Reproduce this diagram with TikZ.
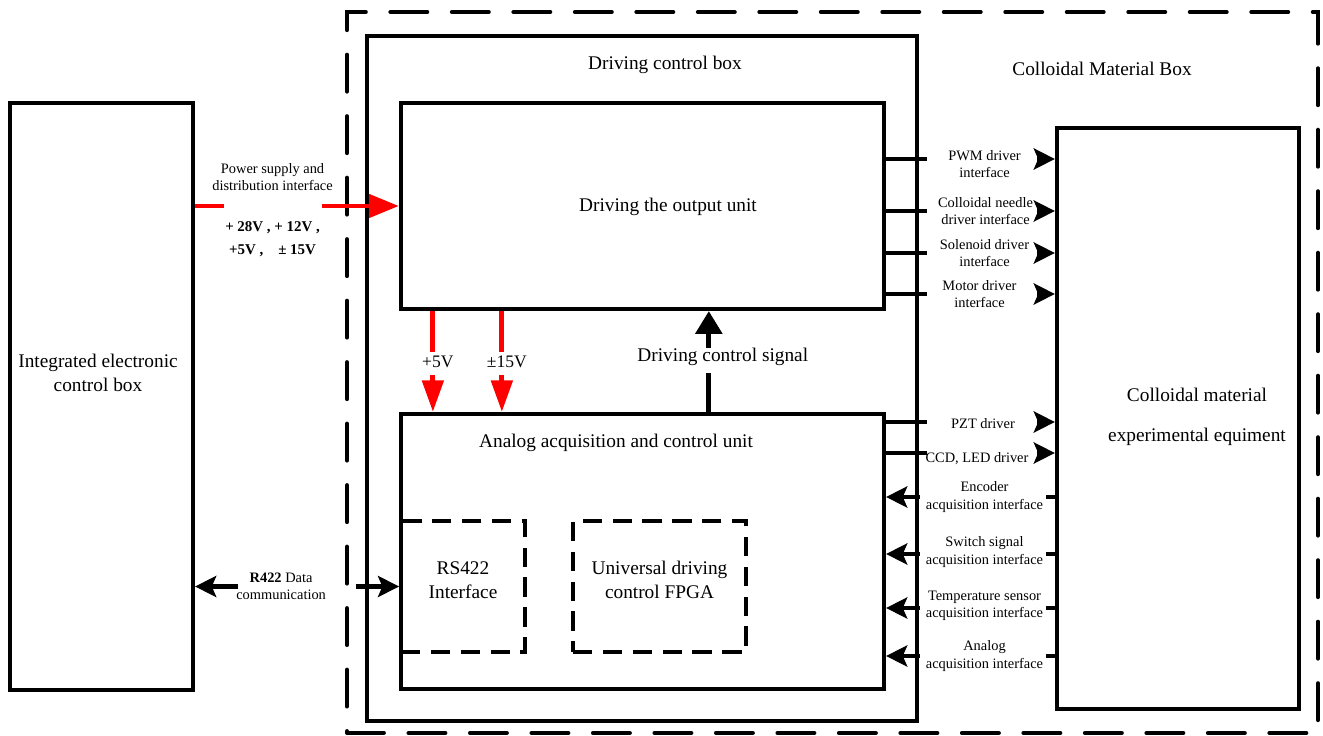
\documentclass[tikz,border=0pt]{standalone}
\usepackage{fontspec}
\setmainfont{Liberation Serif}
\usetikzlibrary{arrows.meta,fit}

\tikzset{
  blk/.style={draw, line width=2.4pt, inner sep=0pt},
  dblk/.style={draw, line width=2.2pt, dash pattern=on 11pt off 6pt, inner sep=0pt,
    align=center, font=\fontsize{11}{13.5}\selectfont},
  outerblk/.style={draw, line width=2.3pt, line cap=round, dash pattern=on 21pt off 14pt, inner sep=0pt},
  tlbl/.style={font=\fontsize{11}{13.5}\selectfont, align=center, inner sep=0pt},
  ilbl/.style={text=black, font=\fontsize{8.2}{9.8}\selectfont, align=center, inner sep=0pt},
  vlbl/.style={text=black, font=\fontsize{8.5}{13}\selectfont\bfseries, align=center, inner sep=0pt},
  plbl/.style={text=black, font=\fontsize{10}{12}\selectfont, inner sep=0pt},
  pwr/.style={red, line width=2.8pt, -{Triangle[length=17pt,width=13pt]}},
  vpwr/.style={red, line width=2.8pt, -{Triangle[length=18pt,width=12pt]}},
  dsig/.style={line width=2.8pt, -{Triangle[length=13pt,width=15pt]}},
  sig/.style={line width=2.3pt, -{Stealth[length=12pt,width=12pt,inset=2.5pt]}},
  sigo/.style={sig, dash pattern=on 0.82cm off 2.2cm on 2cm},
  sigi/.style={sig, dash pattern=on 0.18cm off 2.52cm on 2cm},
}

\begin{document}
\begin{tikzpicture}[x=0.02cm, y=-0.02cm]
    \useasboundingbox (0,0) rectangle (1323,736);

    % boxes
    \node[blk, fit={(10,103) (193,690)}] (ieb) {};
    \node[outerblk, fit={(347,12) (1318,733)}] (cmb) {};
    \node[blk, fit={(367,36) (917,721)}] (dcb) {};
    \node[blk, fit={(401,103) (884,309)}] (dou) {};
    \node[blk, fit={(401,414) (884,689)}] (aau) {};
    \node[dblk, fit={(401,521) (525,652)}] (rsi) {RS422\\Interface};
    \node[dblk, fit={(573,521) (746,652)}] (fpga) {Universal driving\\control FPGA};
    \node[blk, fit={(1057,128) (1299,709)}] (cme) {};

    % box titles
    \node[tlbl] (iebt) at (98,373) {Integrated electronic\\control box};
    \node[tlbl] (dcbt) at (665,65) {Driving control box};
    \node[tlbl] (cmbt) at (1102,69) {Colloidal Material Box};
    \node[tlbl] (dout) at (668,207) {Driving the output unit};
    \node[tlbl] (aaut) at (616,443) {Analog acquisition and control unit};
    \node[tlbl] (cmet) at (1197,417) {Colloidal material\\[9pt]experimental equiment};

    % power supply
    \draw[pwr, dash pattern=on 0.58cm off 1.96cm on 5cm] (ieb.east |- dou.west) -- (dou.west)
        node[pos=0.38, above=0.26cm, ilbl] (psl) {Power supply and\\distribution interface}
        node[pos=0.38, below=0.26cm, vlbl] (psv) {+ 28V , + 12V ,\\+5V ,\quad ± 15V};

    % R422 data
    \draw[sig, {Stealth[length=12pt,width=12pt,inset=2.5pt]}-{Stealth[length=12pt,width=12pt,inset=2.5pt]},
        dash pattern=on 0.55cm off 2.35cm on 3cm] (ieb.east |- rsi.west) -- (rsi.west)
        node[midway, ilbl, xshift=-0.32cm] (rdl) {\textbf{R422} Data\\communication};

    % internal supply
    \coordinate (p5) at ([xshift=0.68cm]dou.south west);
    \coordinate (p15) at ([xshift=2.06cm]dou.south west);
    \draw[vpwr, dash pattern=on 0.82cm off 0.46cm on 3cm] (p5) -- (p5 |- aau.north)
        node[midway, plbl, xshift=0.1cm] {+5V};
    \draw[vpwr, dash pattern=on 0.82cm off 0.46cm on 3cm] (p15) -- (p15 |- aau.north)
        node[midway, plbl, xshift=0.1cm] {±15V};

    % control signal
    \coordinate (dcs) at ([xshift=6.2cm]aau.north west);
    \draw[dsig, dash pattern=on 0.78cm off 0.5cm on 3cm] (dcs) -- (dcs |- dou.south)
        node[midway, tlbl, xshift=0.28cm, yshift=0.09cm] {Driving control signal};

    % driver outputs
    \draw[sigo] (dou.east |- 0,159) -- (cme.west |- 0,159)
        node[midway, ilbl, xshift=0.28cm, yshift=-0.1cm] {PWM driver\\interface};
    \draw[sigo] (dou.east |- 0,211) -- (cme.west |- 0,211)
        node[midway, ilbl, xshift=0.3cm] {Colloidal needle\\driver interface};
    \draw[sigo] (dou.east |- 0,253) -- (cme.west |- 0,253)
        node[midway, ilbl, xshift=0.28cm] {Solenoid driver\\interface};
    \draw[sigo] (dou.east |- 0,294) -- (cme.west |- 0,294)
        node[midway, ilbl, xshift=0.18cm] {Motor driver\\interface};
    \draw[sigo] (aau.east |- 0,422) -- (cme.west |- 0,422)
        node[midway, ilbl, xshift=0.25cm, yshift=-0.04cm] {PZT driver};
    \draw[sigo] (aau.east |- 0,453) -- (cme.west |- 0,453)
        node[midway, ilbl, xshift=0.13cm, yshift=-0.12cm] {CCD, LED driver};

    % acquisition inputs
    \draw[sigi] (cme.west |- 0,497) -- (aau.east |- 0,497)
        node[midway, ilbl, xshift=0.28cm] {Encoder\\acquisition interface};
    \draw[sigi] (cme.west |- 0,554) -- (aau.east |- 0,554)
        node[midway, ilbl, xshift=0.28cm, yshift=0.04cm] {Switch signal\\acquisition interface};
    \draw[sigi] (cme.west |- 0,608) -- (aau.east |- 0,608)
        node[midway, ilbl, xshift=0.28cm, yshift=0.04cm] {Temperature sensor\\acquisition interface};
    \draw[sigi] (cme.west |- 0,656) -- (aau.east |- 0,656)
        node[midway, ilbl, xshift=0.28cm] {Analog\\acquisition interface};
\end{tikzpicture}
\end{document}
